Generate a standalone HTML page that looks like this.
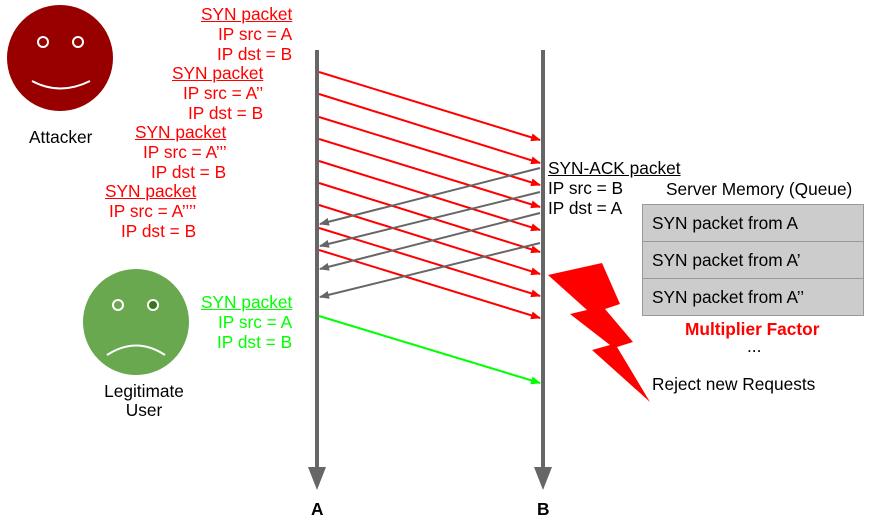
<!DOCTYPE html>
<html><head><style>
body{margin:0;width:871px;height:517px;background:#fff;position:relative;overflow:hidden;font-family:"Liberation Sans",sans-serif;font-size:17.3px}
.t{position:absolute;white-space:nowrap;line-height:19px}
.r{color:#f00}.g{color:#0f0}.u{text-decoration:underline}
.q{position:absolute;left:642px;width:222px;height:38px;background:#ccc;border:1px solid #999;box-sizing:border-box;padding-left:9px;line-height:36px}
</style></head><body>
<svg width="871" height="517" style="position:absolute;left:0;top:0">
<defs>
<marker id="mr" markerWidth="10" markerHeight="8" refX="9" refY="4" orient="auto" markerUnits="userSpaceOnUse"><path d="M0,0L10,4L0,8z" fill="#f00"/></marker>
<marker id="mg" markerWidth="10" markerHeight="8" refX="9" refY="4" orient="auto" markerUnits="userSpaceOnUse"><path d="M0,0L10,4L0,8z" fill="#666"/></marker>
<marker id="mgr" markerWidth="10" markerHeight="8" refX="9" refY="4" orient="auto" markerUnits="userSpaceOnUse"><path d="M0,0L10,4L0,8z" fill="#0f0"/></marker>
</defs>
<circle cx="60" cy="58" r="53" fill="#980000"/>
<circle cx="43" cy="42" r="5" fill="none" stroke="#fff" stroke-width="2"/>
<circle cx="78" cy="42" r="5" fill="none" stroke="#fff" stroke-width="2"/>
<path d="M32,81 Q60,96 90,81" fill="none" stroke="#fff" stroke-width="2"/>
<circle cx="136" cy="322" r="53" fill="#6aa84f"/>
<circle cx="118" cy="305" r="5" fill="#6aa84f" stroke="#fff" stroke-width="2"/>
<circle cx="153" cy="305" r="5" fill="#38761d" stroke="#fff" stroke-width="2"/>
<path d="M107,355 Q136,336 165,355" fill="none" stroke="#fff" stroke-width="2"/>
<line x1="317" y1="50" x2="317" y2="470" stroke="#666" stroke-width="4"/>
<polygon points="308,467 326,467 317,490" fill="#666"/>
<line x1="543" y1="50" x2="543" y2="470" stroke="#666" stroke-width="4"/>
<polygon points="534,467 552,467 543,490" fill="#666"/>
<g stroke="#f00" stroke-width="2" marker-end="url(#mr)">
<line x1="319" y1="72" x2="540" y2="140"/>
<line x1="319" y1="94" x2="540" y2="163"/>
<line x1="319" y1="117" x2="540" y2="185"/>
<line x1="319" y1="139" x2="540" y2="207"/>
<line x1="319" y1="161" x2="540" y2="230"/>
<line x1="319" y1="183" x2="540" y2="252"/>
<line x1="319" y1="205" x2="540" y2="274"/>
<line x1="319" y1="228" x2="540" y2="296"/>
<line x1="319" y1="250" x2="540" y2="318"/>
</g>
<g stroke="#666" stroke-width="2" marker-end="url(#mg)">
<line x1="540" y1="168" x2="320" y2="224"/>
<line x1="540" y1="192" x2="320" y2="246"/>
<line x1="540" y1="213" x2="320" y2="269"/>
<line x1="540" y1="243" x2="320" y2="297"/>
</g>
<line x1="319" y1="316" x2="540" y2="383" stroke="#0f0" stroke-width="2" marker-end="url(#mgr)"/>
<polygon points="548,275 602,263 620,304 605,309 633,342 617,347 650,402 592,350 610,345 570,314 587,310" fill="#f00"/>
</svg>
<div class="t" style="left:29px;top:128px">Attacker</div>
<div class="t" style="left:99px;top:382px;text-align:center;width:90px">Legitimate<br>User</div>
<div class="t r u" style="left:201px;top:5px">SYN packet</div>
<div class="t r" style="left:218px;top:25px">IP src = A</div>
<div class="t r" style="left:217px;top:45px">IP dst = B</div>
<div class="t r u" style="left:172px;top:64px">SYN packet</div>
<div class="t r" style="left:183px;top:84px">IP src = A’’</div>
<div class="t r" style="left:188px;top:104px">IP dst = B</div>
<div class="t r u" style="left:135px;top:123px">SYN packet</div>
<div class="t r" style="left:143px;top:143px">IP src = A’’’</div>
<div class="t r" style="left:151px;top:163px">IP dst = B</div>
<div class="t r u" style="left:105px;top:182px">SYN packet</div>
<div class="t r" style="left:109px;top:202px">IP src = A’’’’</div>
<div class="t r" style="left:121px;top:222px">IP dst = B</div>
<div class="t g u" style="left:201px;top:293px">SYN packet</div>
<div class="t g" style="left:218px;top:313px">IP src = A</div>
<div class="t g" style="left:217px;top:333px">IP dst = B</div>
<div class="t u" style="left:548px;top:159px">SYN-ACK packet</div>
<div class="t" style="left:548px;top:179px">IP src = B</div>
<div class="t" style="left:548px;top:199px">IP dst = A</div>
<div class="t" style="left:666px;top:180px">Server Memory (Queue)</div>
<div class="q" style="top:204px">SYN packet from A</div>
<div class="q" style="top:241px">SYN packet from A’</div>
<div class="q" style="top:278px">SYN packet from A’’</div>
<div class="t" style="left:685px;top:320px;color:#f00;font-weight:bold">Multiplier Factor</div>
<div class="t" style="left:747px;top:337px">...</div>
<div class="t" style="left:652px;top:375px">Reject new Requests</div>
<div class="t" style="left:311px;top:500px;font-weight:bold">A</div>
<div class="t" style="left:537px;top:500px;font-weight:bold">B</div>
</body></html>
